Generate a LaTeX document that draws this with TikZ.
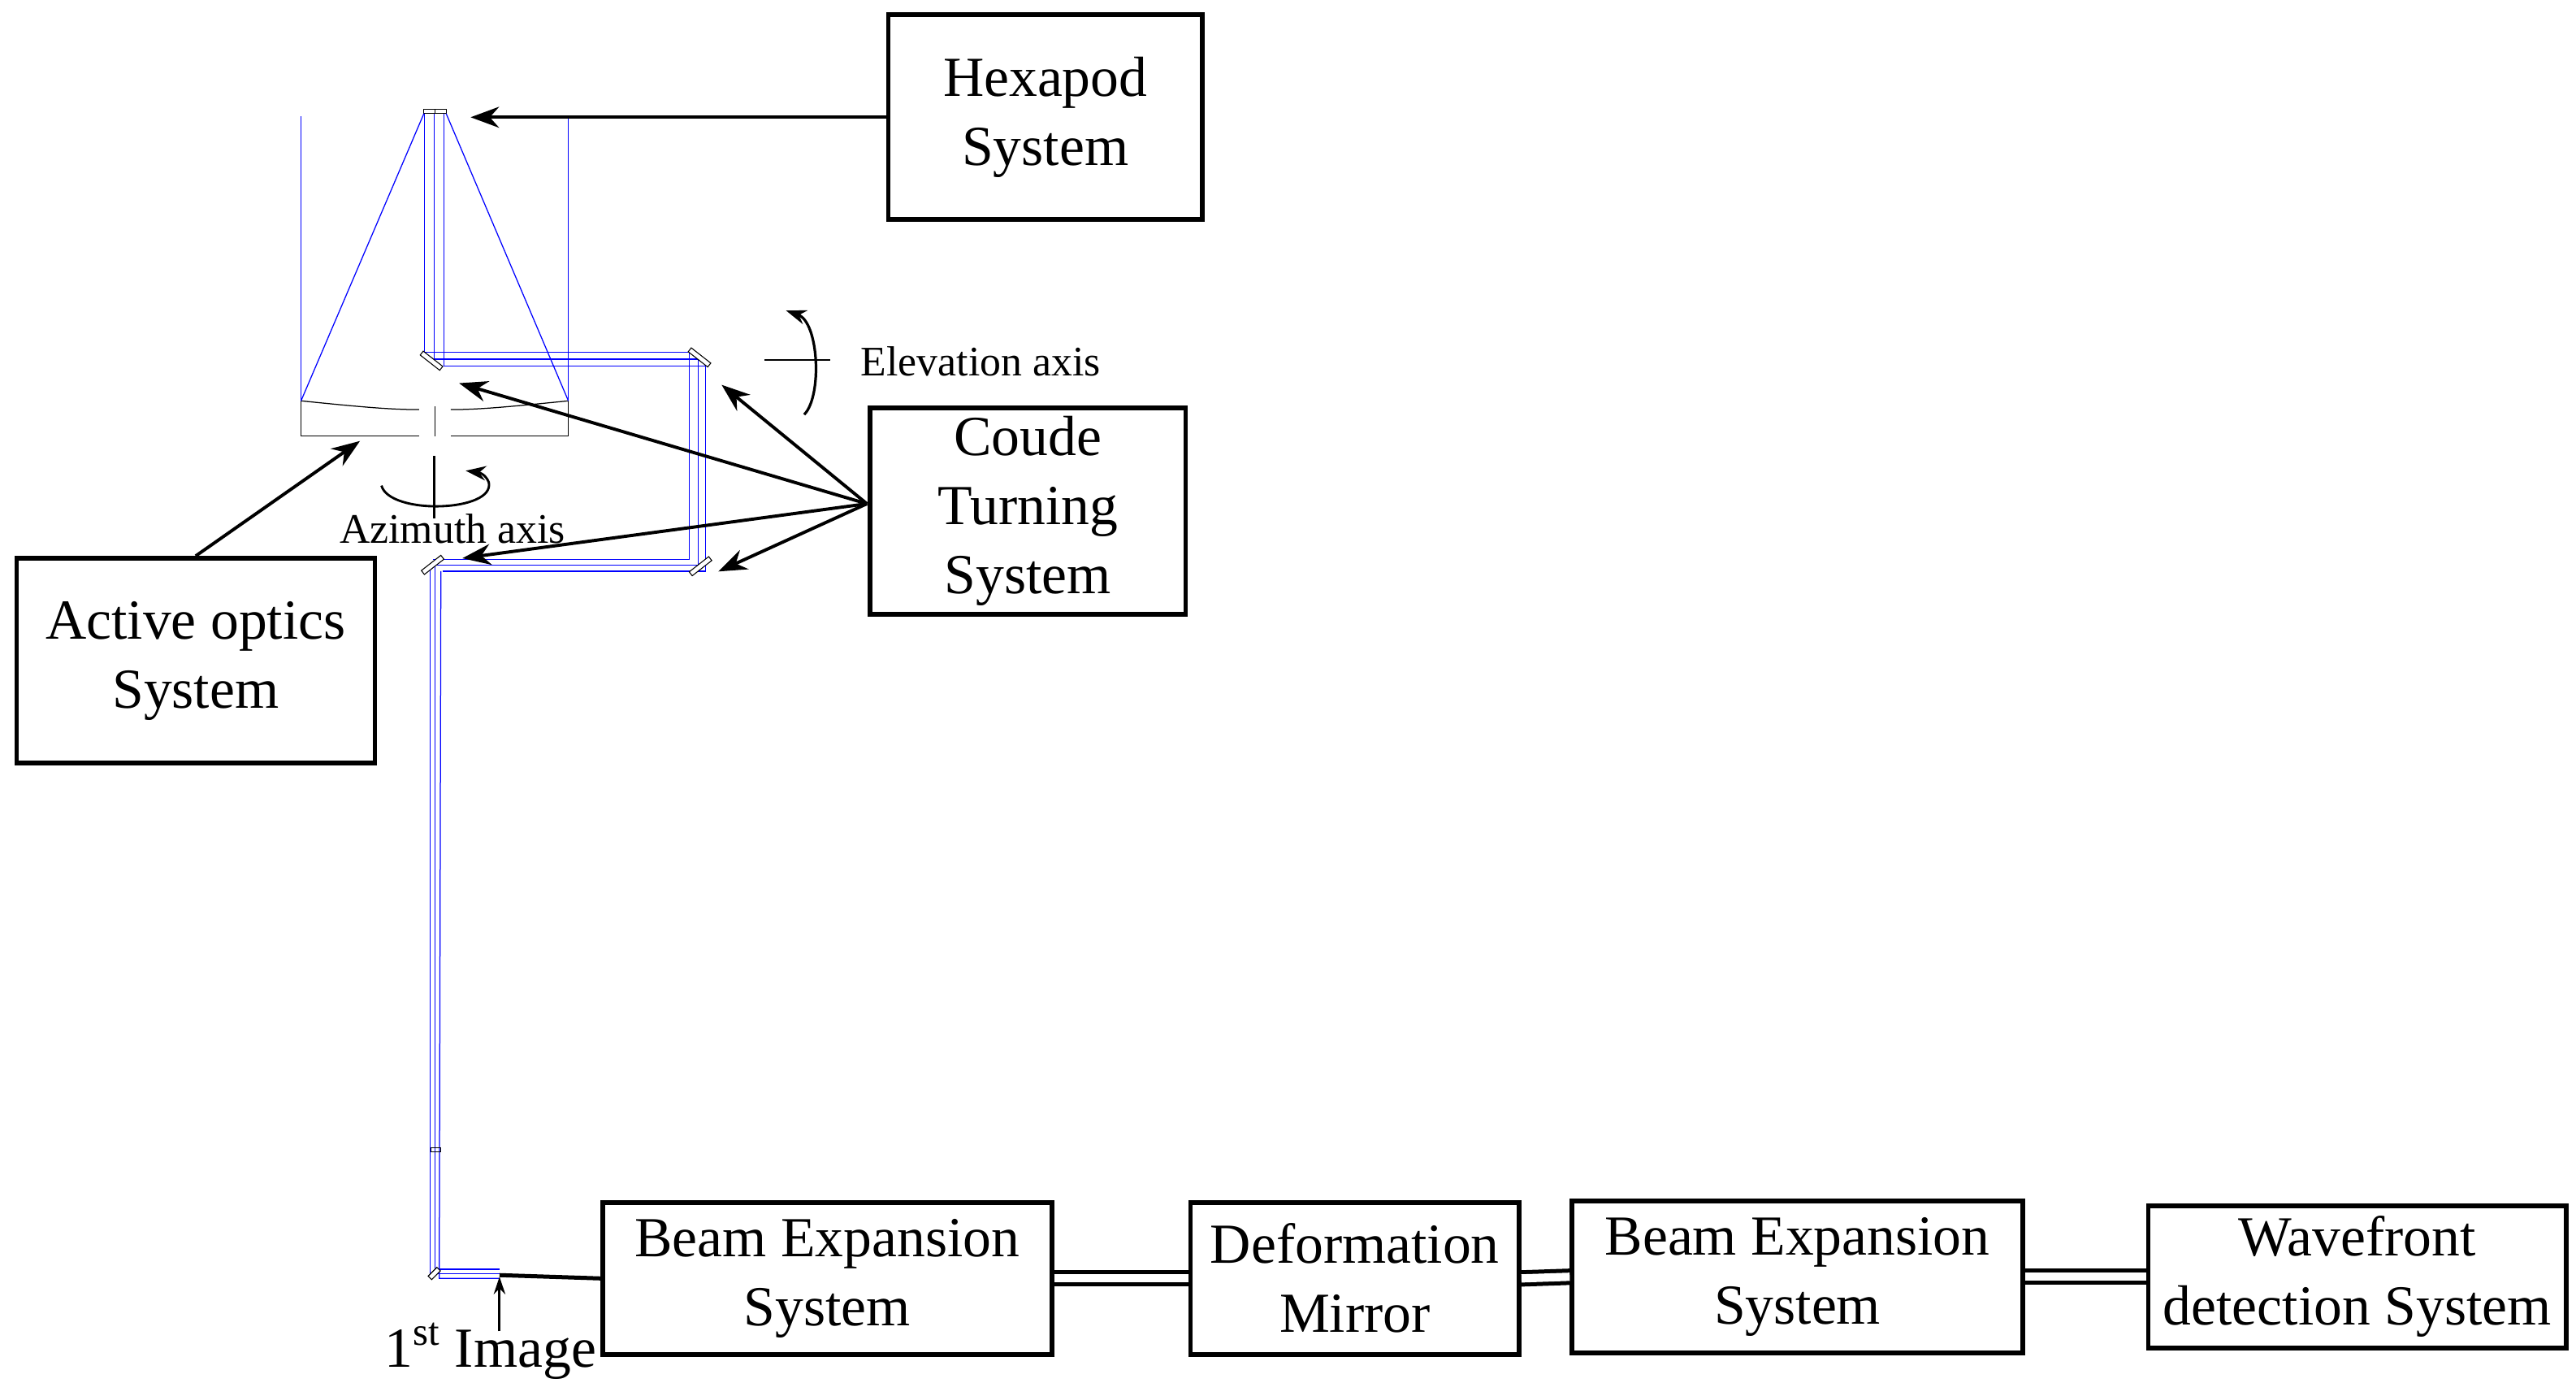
\documentclass[tikz,border=0pt]{standalone}
\usepackage{fontspec}
\setmainfont{Liberation Serif}
\usetikzlibrary{arrows.meta}
\begin{document}
\begin{tikzpicture}[x=0.02cm,y=-0.02cm,
  box/.style={draw,line width=1.6pt,align=center,inner sep=0pt,font=\fontsize{19.5}{23.8}\selectfont},
  beam/.style={blue,line width=0.35pt},
  arr/.style={line width=1.1pt,-{Stealth[length=14pt*0.7,width=9pt*0.8]}},
  lab/.style={font=\fontsize{14.5}{17}\selectfont,inner sep=0pt},
  mir/.style={draw,line width=0.3pt,fill=white,minimum width=0.3cm,minimum height=0.06cm,inner sep=0pt}]
\useasboundingbox (0,0) rectangle (1560,837.3);
% boxes
\node[box,minimum width=3.8cm,minimum height=2.48cm] (hex) at (633,71) {Hexapod\\System};
\node[box,minimum width=3.82cm,minimum height=2.5cm] (coude) at (622.5,309.5) {Coude\\Turning\\System};
\node[box,minimum width=4.34cm,minimum height=2.48cm] (act) at (118.5,400) {Active optics\\System};
\node[box,minimum width=5.44cm,minimum height=1.84cm] (be1) at (501,774) {Beam Expansion\\System};
\node[box,minimum width=3.98cm,minimum height=1.84cm] (dm) at (820.5,774) {Deformation\\Mirror};
\node[box,minimum width=5.46cm,minimum height=1.84cm] (be2) at (1088.5,773) {Beam Expansion\\System};
\node[box,minimum width=5.06cm,minimum height=1.72cm] (wf) at (1427.5,773) {Wavefront\\detection System};
% telescope tube
\draw[beam] (182.3,70.6) -- (182.3,264);
\draw[beam] (344.2,71.6) -- (344.2,264);
\draw[line width=0.35pt] (182.3,242.7) -- (182.3,264) -- (253.8,264);
\draw[line width=0.35pt] (273,264) -- (344.2,264) -- (344.2,242.7);
\draw[line width=0.35pt] (182.3,242.7) .. controls (215,246) and (235,248) .. (253.8,248);
\draw[line width=0.35pt] (273,248) .. controls (291,248) and (311,246) .. (344.2,242.7);
\draw[line width=0.35pt] (263.3,246) -- (263.3,264);
% secondary
\draw[line width=0.3pt] (256.7,66.3) rectangle (270.2,68.8);
\draw[line width=0.3pt] (263.3,66.3) -- (263.3,68.8);
% cone
\draw[beam] (256.7,68.8) -- (182.3,242.7);
\draw[beam] (270.2,68.8) -- (344.2,242.7);
% vertical beams to M3
\draw[beam] (257,68.8) -- (257,213.1) -- (417.6,213.1) -- (417.6,338.9) -- (262,338.9);
\draw[beam] (263,68.8) -- (263,217.4) -- (422.7,217.4) -- (422.7,342) -- (263,342);
\draw[beam] (269,68.8) -- (269,221.7) -- (427.4,221.7) -- (427.4,345.8) -- (268,345.8);
% down beam
\draw[beam] (260.5,341) -- (260.5,771) -- (302.5,771);
\draw[beam] (263.5,342) -- (263.5,768.5) -- (302.5,768.5);
\draw[beam] (267,345.8) -- (266,774) -- (302.5,774);
\draw[line width=0.3pt] (261,695) rectangle (267,697.5);
% mirrors
\coordinate (m3) at (261.3,218.4);
\coordinate (m4) at (423.6,216.4);
\coordinate (m5) at (424.2,342.8);
\coordinate (m6) at (262,342);
\node[mir,rotate=-38] at (m3) {};
\node[mir,rotate=-38] at (m4) {};
\node[mir,rotate=38] at (m5) {};
\node[mir,rotate=38] at (m6) {};
\node[mir,rotate=45,minimum width=0.15cm] at (263,771) {};
% 1st image
\coordinate (img) at (302.5,772);
\draw[line width=1.4pt] (img) -- (be1.west);
\coordinate (imgb) at (302.5,806);
\draw[line width=0.8pt,-{Stealth[length=6pt,width=4pt]}] (imgb) -- (302.5,773);
\node[font=\fontsize{19.5}{23}\selectfont,inner sep=0pt] (imglab) at (297,818) {1\textsuperscript{st} Image};
% double connectors
\draw[line width=1.4pt,double=white,double distance=0.1cm] (be1.east) -- (dm.west);
\draw[line width=1.4pt,double=white,double distance=0.1cm] (dm.east) -- (be2.west);
\draw[line width=1.4pt,double=white,double distance=0.1cm] (be2.east) -- (wf.west);
% pointing arrows
\coordinate (hexp) at (285,71);
\draw[arr] (hex.west) -- (hexp);
\coordinate (actp) at (218,267);
\draw[arr] (act.north) -- (actp);
\coordinate (cp) at (525,305);
\coordinate (a4) at (437,233);
\coordinate (a3) at (278,232);
\coordinate (a6) at (280,338);
\coordinate (a5) at (435,346);
\draw[arr] (cp) -- (a4);
\draw[arr] (cp) -- (a3);
\draw[arr] (cp) -- (a6);
\draw[arr] (cp) -- (a5);
% elevation axis
\draw[line width=0.6pt] (463,218) -- (503,218);
\draw[line width=0.9pt,{Stealth[length=7pt,width=5pt]}-] (476,188) .. controls (496,195) and (498,240) .. (487,251);
\node[lab,anchor=west] (el) at (521,219) {Elevation axis};
% azimuth axis
\draw[line width=0.8pt] (263,276) -- (263,314);
\draw[line width=0.8pt,-{Stealth[length=7pt,width=5pt]}] (231,294) .. controls (236,312) and (300,310) .. (296,292) .. controls (294,287) and (290,286) .. (282,285);
\node[lab] (az) at (274,320) {Azimuth axis};
\end{tikzpicture}
\end{document}
